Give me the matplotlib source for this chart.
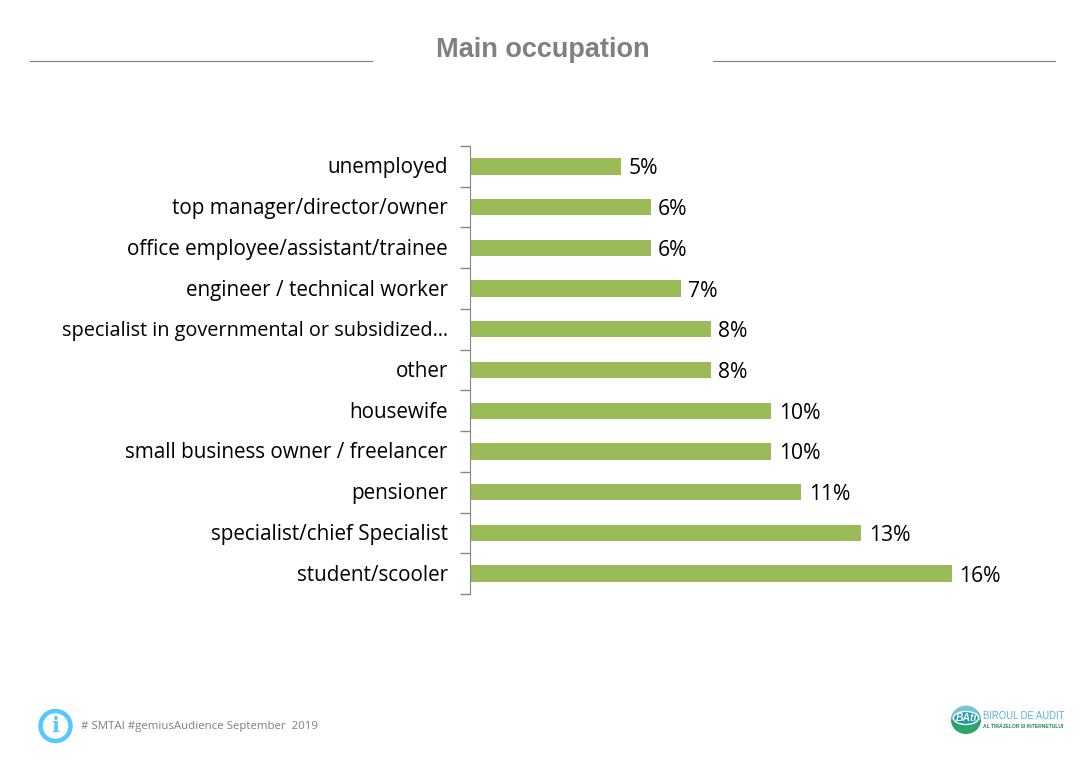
import matplotlib
matplotlib.use('Agg')
import matplotlib.pyplot as plt
from matplotlib.lines import Line2D
from matplotlib.patches import Circle, Ellipse, Wedge
from matplotlib.transforms import ScaledTranslation

categories = ['student/scooler', 'specialist/chief Specialist', 'pensioner',
              'small business owner / freelancer', 'housewife', 'other',
              'specialist in governmental or subsidized\u2026',
              'engineer / technical worker', 'office employee/assistant/trainee',
              'top manager/director/owner', 'unemployed']
values = [16, 13, 11, 10, 10, 8, 8, 7, 6, 6, 5]

W, H = 1085, 762
fig = plt.figure(figsize=(W / 100, H / 100), dpi=100)

# axes box in pixels
ax = fig.add_axes([470 / W, 1 - 594 / H, 550 / W, 448 / H])
ax.barh(categories, values, height=0.4, color='#9BBB59')
ax.set_xlim(0, 550 / 30.1)
ax.set_ylim(-0.5, 10.5)
ax.set_yticks([i - 0.5 for i in range(12)], minor=True)
ax.set_yticks(range(11))
ax.set_yticklabels(categories, family='Open Sans', fontsize=14.9, color='black',
                   va='center_baseline')
ax.tick_params(axis='y', which='major', length=0, pad=16)
ax.tick_params(axis='y', which='minor', length=7, color='#868686', width=1)
# labels sit about a pixel above the bar centre
up = ScaledTranslation(0, 1 / 100, fig.dpi_scale_trans)
for lab in ax.get_yticklabels():
    lab.set_transform(lab.get_transform() + up)
    if lab.get_text().endswith('\u2026'):
        lab.set_fontsize(14.3)
ax.set_xticks([])
for s in ['top', 'right', 'bottom']:
    ax.spines[s].set_visible(False)
ax.spines['left'].set_color('#868686')
for v, c in zip(values, range(len(categories))):
    ax.annotate(f'{v}%', (v, c), xytext=(5.5, -1.8), textcoords='offset points',
                va='center', family='Open Sans', fontsize=15.2, color='black')

# title with rules either side
fig.text(543 / W, 1 - 50 / H, 'Main occupation', ha='center', va='center',
         family='Liberation Sans', weight='bold', fontsize=19.5, color='#808080')
fig.add_artist(Line2D([30 / W, 372 / W], [1 - 61 / H] * 2, color='#7f7f7f', lw=0.8))
fig.add_artist(Line2D([713 / W, 1055 / W], [1 - 61 / H] * 2, color='#7f7f7f', lw=0.8))

# footer
over = fig.add_axes([0, 0, 1, 1])
over.set_xlim(0, W)
over.set_ylim(H, 0)
over.axis('off')
over.add_patch(Circle((55.5, 726), 15, fc='white', ec='#55C8FF', lw=3.2))
over.text(55.5, 726, 'i', ha='center', va='center', family='DejaVu Serif', weight='bold',
          fontsize=15, color='#55C8FF')
over.text(81, 726.5, '# SMTAI #gemiusAudience September  2019', va='center',
          family='Open Sans', fontsize=8.28, color='#7f7f7f')

# logo
over.add_patch(Ellipse((966, 720), 30, 28, fc='#2FA36B', ec='none'))
over.add_patch(Wedge((966, 720), 14.5, 180, 360, fc='#7CCBE0', ec='none', alpha=0.9))
over.add_patch(Ellipse((966, 718), 25, 13, fc='#1E9AA8', ec='white', lw=1))
over.text(966, 718, 'BAti', ha='center', va='center', family='Liberation Sans',
          weight='bold', style='italic', fontsize=7.5, color='white')
over.text(983, 716, 'BIROUL DE AUDIT', va='center', family='Liberation Sans',
          fontsize=6.85, color='#55B4D8')
over.text(983, 727, 'AL TIRAJELOR SI INTERNETULUI', va='center', family='Liberation Sans',
          weight='bold', fontsize=3.65, color='#1F8A4C')

fig.savefig('out.png', dpi=100)
